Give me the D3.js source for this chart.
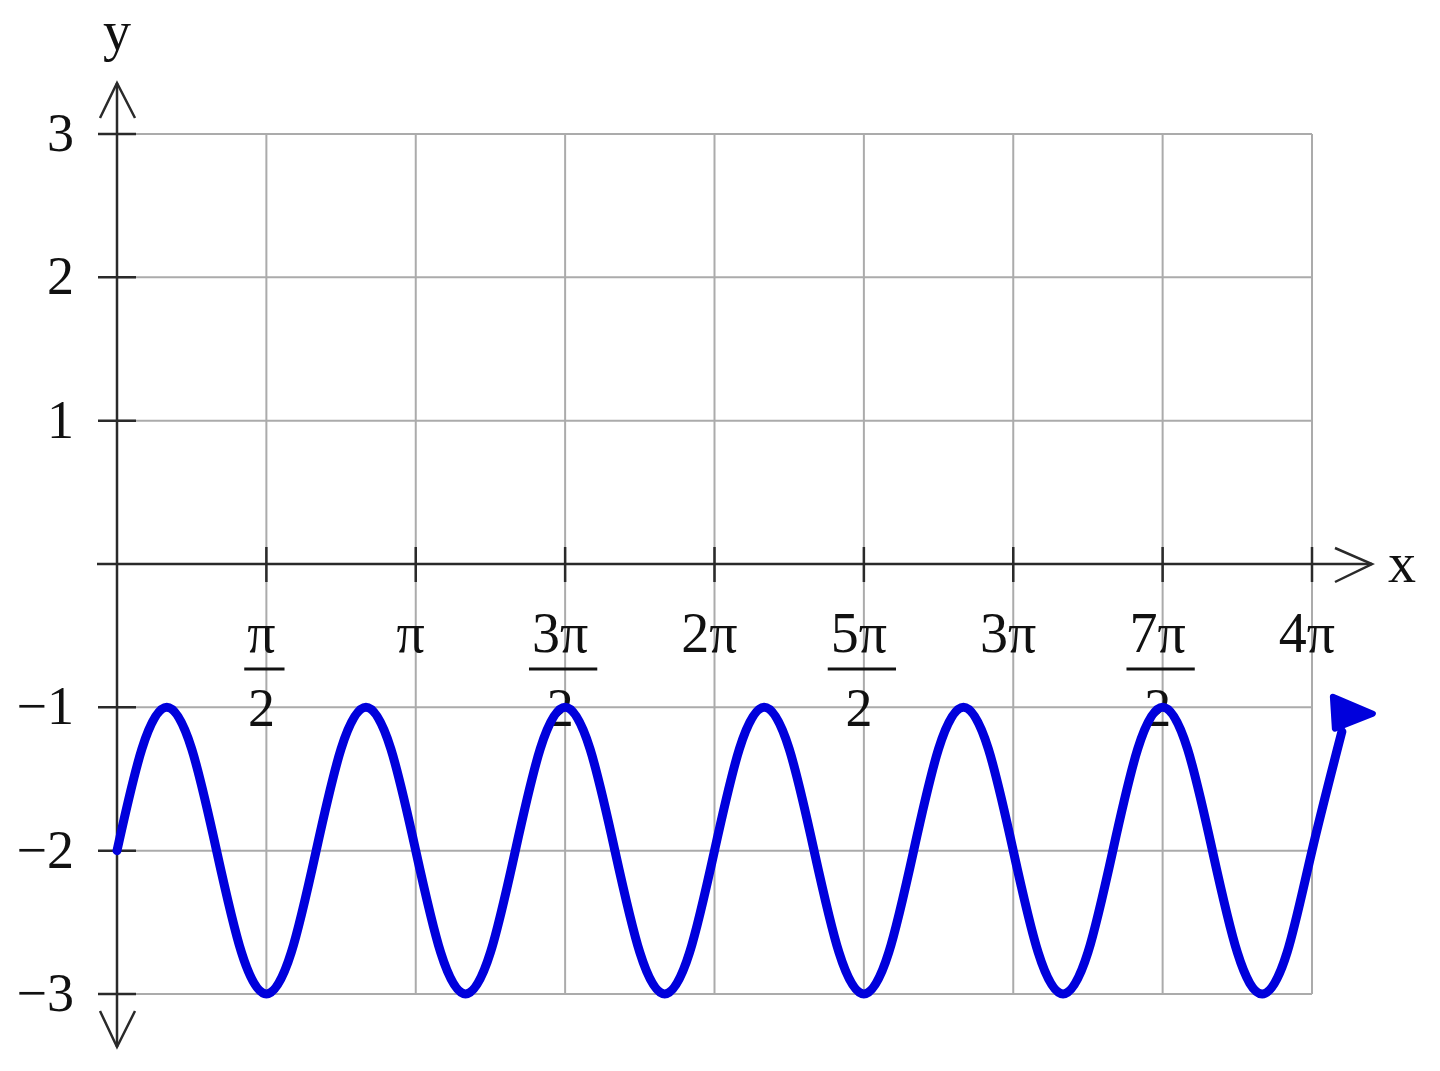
<!DOCTYPE html>
<html><head><meta charset="utf-8">
<script src="https://cdn.jsdelivr.net/npm/d3@7"></script>
<style>html,body{margin:0;padding:0;background:#fff;} svg{display:block;}</style>
</head><body><svg id="chart" width="1440" height="1071"></svg>
<script>
// x positions in units of π/12 (0 … 48 = 4π)
const xTwelfths = [0,1,2,3,4,5,6,7,8,9,10,11,12,13,14,15,16,17,18,19,20,21,22,23,24,
  25,26,27,28,29,30,31,32,33,34,35,36,37,38,39,40,41,42,43,44,45,46,47,48,49.2];
// curve y values at those positions
const yValues = [
  -2,-1.29,-1,-1.29,-2,-2.71,-3,-2.71,
  -2,-1.29,-1,-1.29,-2,-2.71,-3,-2.71,
  -2,-1.29,-1,-1.29,-2,-2.71,-3,-2.71,
  -2,-1.29,-1,-1.29,-2,-2.71,-3,-2.71,
  -2,-1.29,-1,-1.29,-2,-2.71,-3,-2.71,
  -2,-1.29,-1,-1.29,-2,-2.71,-3,-2.71,
  -2,-1.17];
const xGridValues = [0,6,12,18,24,30,36,42,48];
const xTickValues = [6,12,18,24,30,36,42,48];
const xTickNumerators = ["π","π","3π","2π","5π","3π","7π","4π"];
const xTickDenominators = ["2","","2","","2","","2",""];
const yGridValues = [-3,-2,-1,0,1,2,3];
const yTickValues = [-3,-2,-1,1,2,3];
const yTickLabels = ["−3","−2","−1","1","2","3"];

const svg = d3.select("#chart");
const x = d3.scaleLinear().domain([0,48]).range([117,1312]);
const y = d3.scaleLinear().domain([-3,3]).range([994,134]);
const FONT = "'Liberation Serif','Times New Roman',serif";
const gridColor = "#ababab", axisColor = "#2a2a2a", textColor = "#111";
const blue = "#0000dc";

// grid
const grid = svg.append("g");
grid.selectAll("line.v").data(xGridValues).join("line")
  .attr("x1", d=>x(d)).attr("x2", d=>x(d)).attr("y1", y(3)).attr("y2", y(-3))
  .attr("stroke", gridColor).attr("stroke-width", 2);
grid.selectAll("line.h").data(yGridValues).join("line")
  .attr("x1", x(0)).attr("x2", x(48)).attr("y1", d=>y(d)).attr("y2", d=>y(d))
  .attr("stroke", gridColor).attr("stroke-width", 2);

// axes
const ax = svg.append("g").attr("stroke", axisColor).attr("stroke-width", 2.5).attr("fill","none");
const x0 = x(0), y0 = y(0);
ax.append("line").attr("x1", x0-20).attr("x2", x(48)+60).attr("y1", y0).attr("y2", y0);
ax.append("line").attr("x1", x0).attr("x2", x0).attr("y1", y(3)-51).attr("y2", y(-3)+53);
// arrowheads (open chevrons)
const xt = x(48)+60;
ax.append("polyline").attr("points", `${xt-37},${y0-16} ${xt},${y0} ${xt-37},${y0+18}`);
const yt = y(3)-51;
ax.append("polyline").attr("points", `${x0-17},${yt+35} ${x0},${yt} ${x0+18},${yt+35}`);
const yb = y(-3)+53;
ax.append("polyline").attr("points", `${x0-17},${yb-36} ${x0},${yb} ${x0+18},${yb-36}`);
// ticks
ax.selectAll("line.yt").data(yTickValues).join("line")
  .attr("x1", x0-19).attr("x2", x0+19).attr("y1", d=>y(d)).attr("y2", d=>y(d));
ax.selectAll("line.xt").data(xTickValues).join("line")
  .attr("x1", d=>x(d)).attr("x2", d=>x(d)).attr("y1", y0-17).attr("y2", y0+18);

// labels
const lab = svg.append("g").attr("font-family", FONT).attr("fill", textColor);
lab.selectAll("text.yl").data(yTickValues).join("text")
  .attr("x", x0-43).attr("y", d=>y(d)+17).attr("text-anchor","end")
  .attr("font-size", 54).text((d,i)=>yTickLabels[i]);
lab.append("text").attr("x", x0).attr("y", 50).attr("text-anchor","middle")
  .attr("font-size", 56).text("y");
lab.append("text").attr("x", 1388).attr("y", y0+18).attr("text-anchor","start")
  .attr("font-size", 56).text("x");

xTickValues.forEach((v,i)=>{
  const cx = x(v);
  const num = lab.append("text").attr("x", cx-5).attr("y", y0+88)
    .attr("text-anchor","middle").attr("font-size", 56).text(xTickNumerators[i]);
  if (xTickDenominators[i]) {
    const w = num.node().getComputedTextLength() + 12;
    lab.append("line").attr("x1", cx-2-w/2).attr("x2", cx-2+w/2)
      .attr("y1", y0+105).attr("y2", y0+105).attr("stroke", textColor).attr("stroke-width", 3);
    lab.append("text").attr("x", cx-5).attr("y", y0+162)
      .attr("text-anchor","middle").attr("font-size", 54).text(xTickDenominators[i]);
  }
});

// curve
const pts = xTwelfths.map((d,i)=>[d, yValues[i]]);
const line = d3.line().x(d=>x(d[0])).y(d=>y(d[1])).curve(d3.curveNatural);
svg.append("path").attr("d", line(pts)).attr("fill","none")
  .attr("stroke", blue).attr("stroke-width", 9).attr("stroke-linecap","round");
// filled arrowhead at curve end
const last = pts[pts.length-1];
const ex = x(last[0]), ey = y(last[1]);
svg.append("path")
  .attr("d", `M${ex-9},${ey-35} L${ex+31},${ey-18} L${ex-7},${ey-3} Z`)
  .attr("fill", blue).attr("stroke", blue).attr("stroke-width", 6).attr("stroke-linejoin","round");
</script></body></html>
